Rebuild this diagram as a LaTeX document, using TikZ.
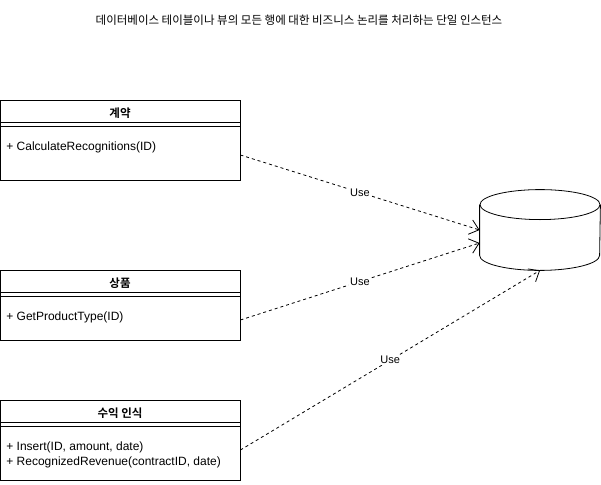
\documentclass[tikz,border=0pt]{standalone}
\usepackage{fontspec}
\setmainfont{Liberation Sans}
\newfontfamily\kr{Noto Sans CJK KR}[BoldFont={Noto Sans CJK KR Bold}]
\usetikzlibrary{arrows.meta,calc}
\newcommand{\classsep}[1]{
	\draw (#1.west |- #1head.south) -- (#1.east |- #1head.south);
	\draw ($(#1.west |- #1head.south)+(0,-4)$) -- ($(#1.east |- #1head.south)+(0,-4)$);
}

\begin{document}
\begin{tikzpicture}[x=1pt,y=-1pt,line width=0.8pt,
	classbox/.style={draw, minimum width=240pt, inner sep=0pt},
	classhead/.style={minimum width=240pt, minimum height=26pt, inner sep=0pt, anchor=north, font=\fontsize{11.5}{13}\selectfont\kr\bfseries},
	classops/.style={anchor=north west, align=left, inner xsep=6pt, inner ysep=0pt, font=\fontsize{12}{15}\selectfont},
	uses/.style={draw, dash pattern=on 3pt off 3pt, -{Straight Barb[length=9pt,width=15pt]}},
	uselabel/.style={fill=white, inner sep=1pt, font=\fontsize{11}{12}\selectfont}]
	\useasboundingbox (0,0) rectangle (601,484);

	\node (title) at (299,20) {\fontsize{11.5}{13}\selectfont\kr 데이터베이스 테이블이나 뷰의 모든 행에 대한 비즈니스 논리를 처리하는 단일 인스턴스};

	% classes
	\node (contract) [classbox, minimum height=80pt] at (120,140) {};
	\node (contracthead) [classhead] at (contract.north) {계약};
	\classsep{contract}
	\node (contractops) [classops] at (0,141) {+ CalculateRecognitions(ID)};

	\node (product) [classbox, minimum height=70pt] at (120,305) {};
	\node (producthead) [classhead] at (product.north) {상품};
	\classsep{product}
	\node (productops) [classops] at (0,311) {+ GetProductType(ID)};

	\node (revenue) [classbox, minimum height=80pt] at (120,440) {};
	\node (revenuehead) [classhead] at (revenue.north) {수익 인식};
	\classsep{revenue}
	\node (revenueops) [classops] at (0,441) {+ Insert(ID, amount, date)\\+ RecognizedRevenue(contractID, date)};

	% database
	\node (db) [minimum width=120pt, minimum height=80pt, inner sep=0pt] at (540,230) {};
	\draw ($(db.north west)+(0,15)$) -- ($(db.south west)+(0,-15)$)
		arc[start angle=180, end angle=360, x radius=60pt, y radius=15pt]
		-- ($(db.north east)+(0,15)$);
	\draw ($(db.north)+(0,15)$) ellipse [x radius=60pt, y radius=15pt];
	\coordinate (dbin1) at ($(db.west)+(0,0)$);
	\coordinate (dbin2) at ($(db.west)+(0,13)$);

	% dependencies
	\draw[uses] (contract.east |- 0,155) -- node[uselabel] {Use} (dbin1);
	\draw[uses] (product.east |- 0,320) -- node[uselabel] {Use} (dbin2);
	\draw[uses] (revenue.east |- 0,450) -- node[uselabel] {Use} (db.south);
\end{tikzpicture}
\end{document}
